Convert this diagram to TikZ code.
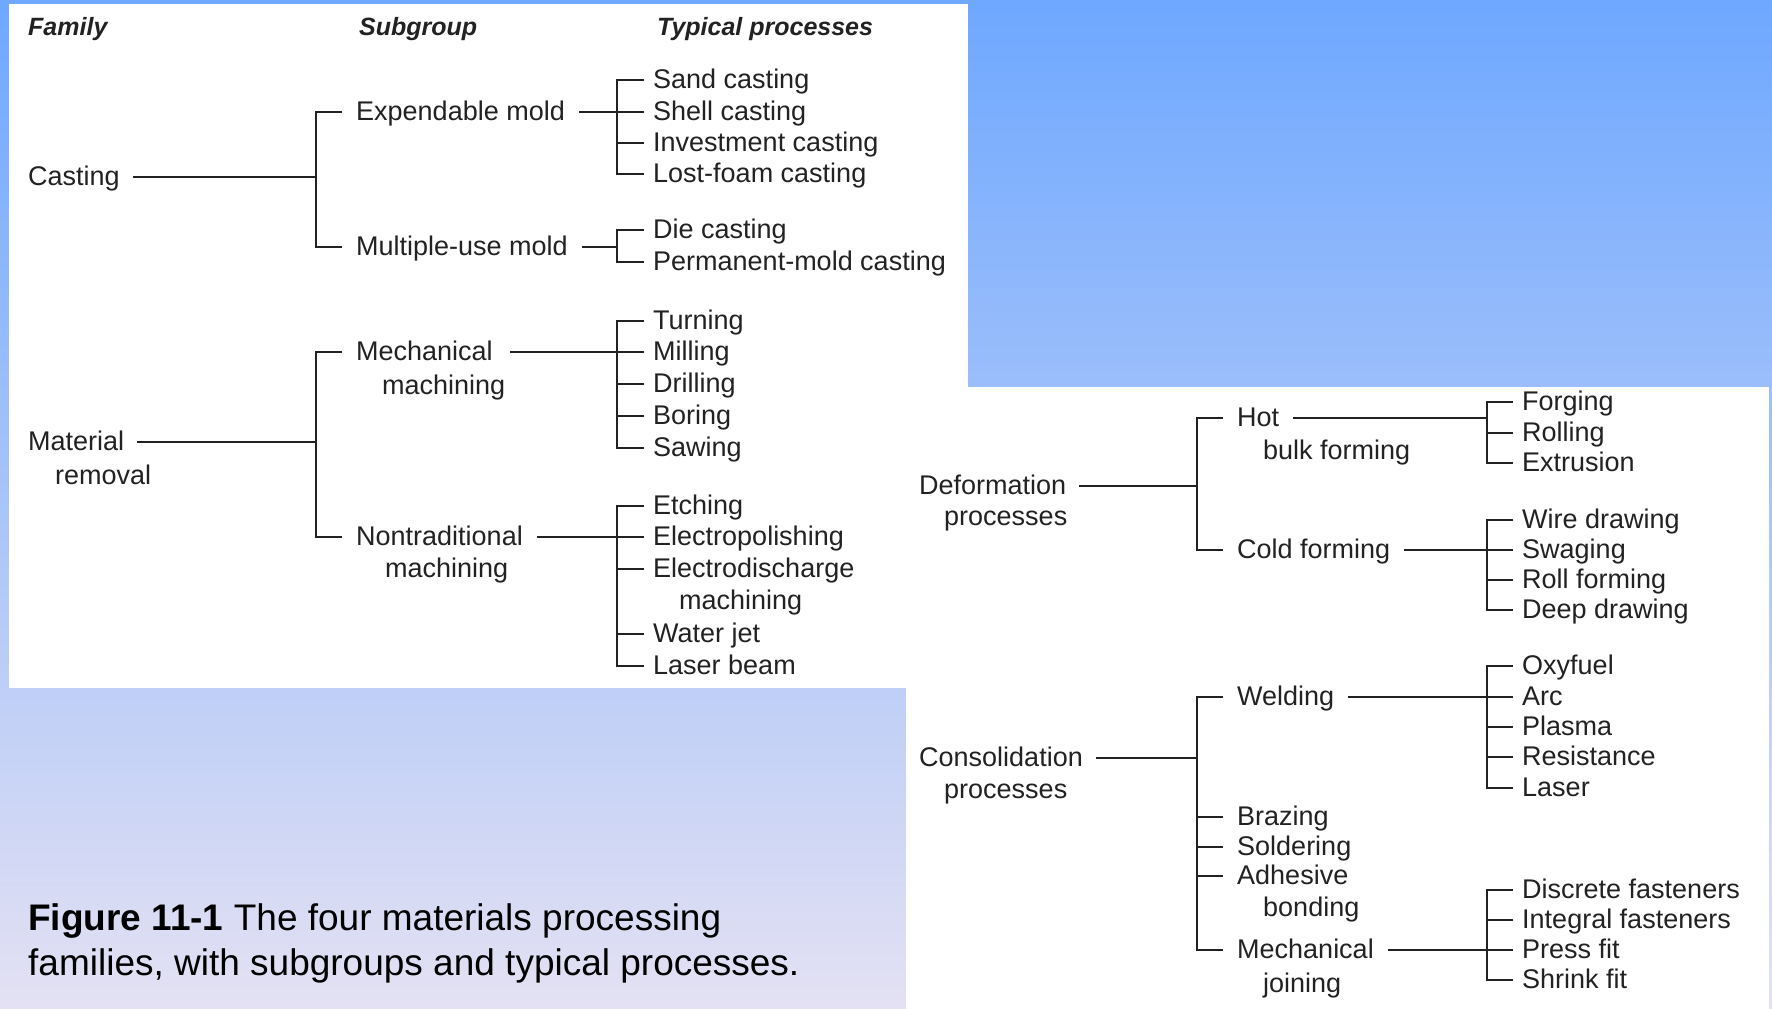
\documentclass[tikz,border=0pt]{standalone}
\usepackage{fontspec}
\setmainfont{Liberation Sans}
\definecolor{ink}{HTML}{222222}
\definecolor{bgtop}{RGB}{110,168,255}
\definecolor{bgmid}{RGB}{156,199,246}
\definecolor{bgbot}{RGB}{228,225,243}
\tikzset{
  lbl/.style={font=\fontsize{27}{32}\selectfont, text=ink, inner ysep=0pt, text height=21.6pt, text depth=5.4pt, anchor=west},
  fam/.style={lbl, inner xsep=13pt},
  sub/.style={lbl, inner xsep=14pt},
  item/.style={lbl, inner xsep=9pt},
  cont/.style={lbl, inner xsep=0pt},
  head/.style={font=\fontsize{25}{30}\selectfont\bfseries\itshape, text=ink, inner sep=0pt, anchor=base west},
  captxt/.style={font=\fontsize{37}{45}\selectfont, text=black, inner sep=0pt, anchor=base west},
  link/.style={draw=ink, line width=2.5pt},
}
\begin{document}
\begin{tikzpicture}[x=1pt,y=-1pt]
\useasboundingbox (0,0) rectangle (1772,1009);
\shade[top color=bgtop, middle color=bgmid, bottom color=bgbot] (0,0) rectangle (1772,1009);
\fill[white] (9,4) rectangle (968,688);
\fill[white] (906,387) rectangle (1769,1009);

% headers
\node[head] (hfam) at (28,35) {Family};
\node[head] (hsub) at (359,35) {Subgroup};
\node[head] (htyp) at (657,35) {Typical processes};

% ---------------- left tree ----------------
\coordinate (fbarL) at (316,0);
\coordinate (ibarL) at (617,0);
\node[fam] (cast) at (15,177) {Casting};
\node[fam] (matl) at (15,442) {Material};
\node[cont] (matl2) at (55,476) {removal};

\node[sub] (expm) at (342,112) {Expendable mold};
\node[sub] (mult) at (342,247) {Multiple-use mold};
\node[sub] (mech) at (342,352) {Mechanical};
\node[cont] (mech2) at (382,386) {machining};
\node[sub] (nont) at (342,537) {Nontraditional};
\node[cont] (nont2) at (385,569) {machining};

\node[item] (sand) at (644,80) {Sand casting};
\node[item] (shell) at (644,112) {Shell casting};
\node[item] (inv) at (644,143) {Investment casting};
\node[item] (lost) at (644,174) {Lost-foam casting};
\node[item] (die) at (644,230) {Die casting};
\node[item] (perm) at (644,262) {Permanent-mold casting};

\node[item] (turn) at (644,321) {Turning};
\node[item] (mill) at (644,352) {Milling};
\node[item] (dril) at (644,384) {Drilling};
\node[item] (bore) at (644,416) {Boring};
\node[item] (saw) at (644,448) {Sawing};

\node[item] (etch) at (644,506) {Etching};
\node[item] (epol) at (644,537) {Electropolishing};
\node[item] (edm) at (644,569) {Electrodischarge};
\node[cont] (edm2) at (679,601) {machining};
\node[item] (wjet) at (644,634) {Water jet};
\node[item] (lbeam) at (644,666) {Laser beam};

% family brackets and feeders
\draw[link] (expm.west) -- (expm.west -| fbarL) |- (mult.west);
\draw[link] (cast.east) -- (cast.east -| fbarL);
\draw[link] (mech.west) -- (mech.west -| fbarL) |- (nont.west);
\draw[link] (matl.east) -- (matl.east -| fbarL);

% item brackets and feeders
\draw[link] (sand.west) -- (sand.west -| ibarL) |- (lost.west);
\draw[link] (shell.west) -- (shell.west -| ibarL);
\draw[link] (inv.west) -- (inv.west -| ibarL);
\draw[link] (expm.east) -- (expm.east -| ibarL);

\draw[link] (die.west) -- (die.west -| ibarL) |- (perm.west);
\draw[link] (mult.east) -- (mult.east -| ibarL);

\draw[link] (turn.west) -- (turn.west -| ibarL) |- (saw.west);
\draw[link] (mill.west) -- (mill.west -| ibarL);
\draw[link] (dril.west) -- (dril.west -| ibarL);
\draw[link] (bore.west) -- (bore.west -| ibarL);
\coordinate (mechs) at ([xshift=5pt]mech.east -| mech2.east);
\draw[link] (mechs) -- (mechs -| ibarL);

\draw[link] (etch.west) -- (etch.west -| ibarL) |- (lbeam.west);
\draw[link] (epol.west) -- (epol.west -| ibarL);
\draw[link] (edm.west) -- (edm.west -| ibarL);
\draw[link] (wjet.west) -- (wjet.west -| ibarL);
\draw[link] (nont.east) -- (nont.east -| ibarL);

% ---------------- right tree ----------------
\coordinate (fbarR) at (1197,0);
\coordinate (ibarR) at (1487,0);
\node[fam] (defo) at (906,486) {Deformation};
\node[cont] (defo2) at (944,517) {processes};
\node[fam] (cons) at (906,758) {Consolidation};
\node[cont] (cons2) at (944,790) {processes};

\node[sub] (hot) at (1223,418) {Hot};
\node[cont] (hot2) at (1263,451) {bulk forming};
\node[sub] (cold) at (1223,550) {Cold forming};
\node[sub] (weld) at (1223,697) {Welding};
\node[sub] (braz) at (1223,817) {Brazing};
\node[sub] (sold) at (1223,847) {Soldering};
\node[sub] (adhe) at (1223,876) {Adhesive};
\node[cont] (adhe2) at (1263,908) {bonding};
\node[sub] (mjoin) at (1223,950) {Mechanical};
\node[cont] (mjoin2) at (1263,984) {joining};

\node[item] (forg) at (1513,402) {Forging};
\node[item] (roll) at (1513,433) {Rolling};
\node[item] (extr) at (1513,463) {Extrusion};
\node[item] (wire) at (1513,520) {Wire drawing};
\node[item] (swag) at (1513,550) {Swaging};
\node[item] (rollf) at (1513,580) {Roll forming};
\node[item] (deep) at (1513,610) {Deep drawing};

\node[item] (oxy) at (1513,666) {Oxyfuel};
\node[item] (arc) at (1513,697) {Arc};
\node[item] (plas) at (1513,727) {Plasma};
\node[item] (resi) at (1513,757) {Resistance};
\node[item] (lase) at (1513,788) {Laser};

\node[item] (disc) at (1513,890) {Discrete fasteners};
\node[item] (integ) at (1513,920) {Integral fasteners};
\node[item] (press) at (1513,950) {Press fit};
\node[item] (shrink) at (1513,980) {Shrink fit};

% family brackets and feeders
\draw[link] (hot.west) -- (hot.west -| fbarR) |- (cold.west);
\draw[link] (defo.east) -- (defo.east -| fbarR);
\draw[link] (weld.west) -- (weld.west -| fbarR) |- (mjoin.west);
\draw[link] (braz.west) -- (braz.west -| fbarR);
\draw[link] (sold.west) -- (sold.west -| fbarR);
\draw[link] (adhe.west) -- (adhe.west -| fbarR);
\draw[link] (cons.east) -- (cons.east -| fbarR);

% item brackets and feeders
\draw[link] (forg.west) -- (forg.west -| ibarR) |- (extr.west);
\draw[link] (roll.west) -- (roll.west -| ibarR);
\draw[link] (hot.east) -- (hot.east -| ibarR);

\draw[link] (wire.west) -- (wire.west -| ibarR) |- (deep.west);
\draw[link] (swag.west) -- (swag.west -| ibarR);
\draw[link] (rollf.west) -- (rollf.west -| ibarR);
\draw[link] (cold.east) -- (cold.east -| ibarR);

\draw[link] (oxy.west) -- (oxy.west -| ibarR) |- (lase.west);
\draw[link] (arc.west) -- (arc.west -| ibarR);
\draw[link] (plas.west) -- (plas.west -| ibarR);
\draw[link] (resi.west) -- (resi.west -| ibarR);
\draw[link] (weld.east) -- (weld.east -| ibarR);

\draw[link] (disc.west) -- (disc.west -| ibarR) |- (shrink.west);
\draw[link] (integ.west) -- (integ.west -| ibarR);
\draw[link] (press.west) -- (press.west -| ibarR);
\draw[link] (mjoin.east) -- (mjoin.east -| ibarR);

% caption
\node[captxt] (cap1) at (28,930) {\textbf{Figure 11-1} The four materials processing};
\node[captxt] (cap2) at (28,975) {families, with subgroups and typical processes.};
\end{tikzpicture}
\end{document}
